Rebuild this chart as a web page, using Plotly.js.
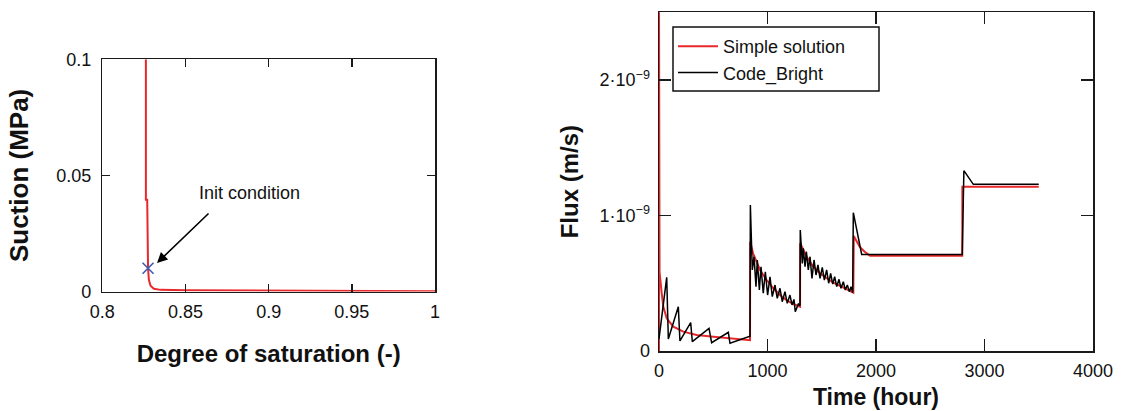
<!DOCTYPE html>
<html>
<head>
<meta charset="utf-8">
<script src="https://cdn.plot.ly/plotly-3.0.1.min.js"></script>
<style>
html,body{margin:0;padding:0;background:#fff;}
#chart{width:1122px;height:411px;}
</style>
</head>
<body>
<div id="chart"></div>
<script>
// ---- Left panel: suction vs degree of saturation ----
const satDegree = [0.8262, 0.8262, 0.8270, 0.8272, 0.8275, 0.8280, 0.8290, 0.8310, 0.8350, 0.85, 0.90, 0.95, 1.0];
const suctionMPa = [0.1, 0.0395, 0.0395, 0.02, 0.01, 0.005, 0.0025, 0.0012, 0.0007, 0.0005, 0.0003, 0.0002, 0.0001];
const initSat = [0.8275];
const initSuction = [0.01];
const satTicks = [0.8, 0.85, 0.9, 0.95, 1];
const satTickLabels = ['0.8', '0.85', '0.9', '0.95', '1'];
const sucTicks = [0, 0.05, 0.1];
const sucTickLabels = ['0', '0.05', '0.1'];

// ---- Right panel: flux vs time (flux in units of 1e-9 m/s) ----
const simpleTime = [0, 0, 5, 25, 40, 71, 132, 224, 347, 501, 654, 808, 839, 840, 867, 931, 992, 1054, 1115, 1176, 1238, 1300, 1301, 1361, 1422, 1484, 1545, 1607, 1668, 1730, 1791, 1795, 1818, 1849, 1895, 1945, 2795, 2796, 3500];
const simpleFlux = [0, 2.7, 0.585, 0.426, 0.327, 0.241, 0.18, 0.143, 0.118, 0.106, 0.094, 0.081, 0.08, 0.807, 0.721, 0.598, 0.524, 0.463, 0.413, 0.376, 0.347, 0.327, 0.795, 0.696, 0.622, 0.573, 0.536, 0.504, 0.48, 0.455, 0.43, 0.849, 0.819, 0.77, 0.733, 0.703, 0.703, 1.213, 1.213];
const cbTime = [0, 71, 86, 178, 193, 292, 307, 461, 485, 639, 654, 839, 842, 860, 876, 894, 906, 925, 940, 961, 980, 1001, 1023, 1044, 1069, 1090, 1115, 1136, 1161, 1182, 1207, 1226, 1244, 1256, 1284, 1300, 1302, 1321, 1330, 1346, 1358, 1376, 1392, 1410, 1429, 1447, 1465, 1484, 1505, 1524, 1545, 1564, 1582, 1601, 1619, 1638, 1659, 1677, 1699, 1717, 1736, 1754, 1770, 1785, 1791, 1868, 2012, 2169, 2320, 2476, 2630, 2795, 2810, 2897, 3044, 3195, 3348, 3500];
const cbFlux = [0.09, 0.544, 0.089, 0.327, 0.074, 0.21, 0.069, 0.167, 0.061, 0.138, 0.057, 0.11, 1.077, 0.598, 0.696, 0.475, 0.672, 0.45, 0.622, 0.426, 0.585, 0.413, 0.548, 0.401, 0.487, 0.389, 0.463, 0.364, 0.438, 0.352, 0.413, 0.34, 0.381, 0.29, 0.347, 0.335, 0.893, 0.647, 0.758, 0.622, 0.733, 0.598, 0.696, 0.536, 0.672, 0.561, 0.635, 0.536, 0.617, 0.524, 0.598, 0.5, 0.573, 0.494, 0.548, 0.475, 0.529, 0.463, 0.511, 0.45, 0.487, 0.438, 0.475, 0.43, 1.021, 0.713, 0.713, 0.713, 0.713, 0.713, 0.713, 0.713, 1.331, 1.23, 1.23, 1.23, 1.23, 1.23];
const fluxScale = 1e-9;
const timeTicks = [0, 1000, 2000, 3000, 4000];
const fluxTicks = [0, 1e-9, 2e-9];
const fluxTickLabels = ['0', '1\u00b710<sup>\u22129</sup>', '2\u00b710<sup>\u22129</sup>'];
const seriesNames = ['Simple solution', 'Code_Bright'];

const FONT = 'Liberation Sans, Arial, Helvetica, sans-serif';
const RED = '#e8282b';
const AX = '#1a1a1a';
const W = 1122, H = 411;

const traces = [
  {x: satDegree, y: suctionMPa, xaxis: 'x', yaxis: 'y', mode: 'lines',
   line: {color: RED, width: 2}, showlegend: false, hoverinfo: 'skip'},
  {x: initSat, y: initSuction, xaxis: 'x', yaxis: 'y', mode: 'markers',
   marker: {symbol: 'x-thin-open', size: 11, color: '#3b5bb5', line: {width: 1.6, color: '#3b5bb5'}},
   showlegend: false, hoverinfo: 'skip'},
  {x: simpleTime, y: simpleFlux.map(v => v * fluxScale), xaxis: 'x2', yaxis: 'y2', mode: 'lines',
   name: seriesNames[0], line: {color: RED, width: 2}},
  {x: cbTime, y: cbFlux.map(v => v * fluxScale), xaxis: 'x2', yaxis: 'y2', mode: 'lines',
   name: seriesNames[1], line: {color: '#000', width: 1.5}}
];

function axBase() {
  return {showline: true, linecolor: AX, linewidth: 1.5, mirror: 'ticks', ticks: 'inside',
          tickcolor: AX, tickwidth: 1.5, showgrid: false, zeroline: false, fixedrange: true,
          tickfont: {family: FONT, size: 18, color: '#111'}, automargin: false};
}

const layout = {
  width: W, height: H,
  margin: {l: 0, r: 0, t: 0, b: 0},
  paper_bgcolor: '#fff', plot_bgcolor: '#fff',
  font: {family: FONT, size: 18, color: '#111'},
  xaxis: Object.assign(axBase(), {
    domain: [102.3 / W, 435 / W], range: [0.8, 1], anchor: 'y',
    tickmode: 'array', tickvals: satTicks, ticktext: satTickLabels, ticklen: 8, ticklabelstandoff: 3,
    title: {text: '<b>Degree of saturation (-)</b>', font: {family: FONT, size: 24, color: '#111'}, standoff: 24}
  }),
  yaxis: Object.assign(axBase(), {
    domain: [1 - 291.5 / H, 1 - 59.3 / H], range: [0, 0.1], anchor: 'x',
    tickmode: 'array', tickvals: sucTicks, ticktext: sucTickLabels, ticklen: 8, ticklabelstandoff: 6,
    title: {text: '<b>Suction (MPa)</b>', font: {family: FONT, size: 26, color: '#111'}, standoff: 20}
  }),
  xaxis2: Object.assign(axBase(), {
    domain: [659 / W, 1093 / W], range: [0, 4000], anchor: 'y2',
    tickmode: 'array', tickvals: timeTicks, ticktext: timeTicks.map(String), ticklen: 12, ticklabelstandoff: 3,
    title: {text: '<b>Time (hour)</b>', font: {family: FONT, size: 23, color: '#111'}, standoff: 9}
  }),
  yaxis2: Object.assign(axBase(), {
    domain: [1 - 351 / H, 1 - 12.3 / H], range: [0, 2.5e-9], anchor: 'x2',
    tickmode: 'array', tickvals: fluxTicks, ticktext: fluxTickLabels, ticklen: 12, ticklabelstandoff: 4,
    title: {text: '<b>Flux (m/s)</b>', font: {family: FONT, size: 24, color: '#111'}, standoff: 14}
  }),
  showlegend: true,
  legend: {x: 673 / W, y: 1 - 28 / H, xanchor: 'left', yanchor: 'top', xref: 'paper', yref: 'paper',
           bgcolor: 'rgba(0,0,0,0)', borderwidth: 0, itemwidth: 40,
           font: {family: FONT, size: 18, color: '#111'}, tracegroupgap: 0},
  shapes: [
    {type: 'rect', xref: 'paper', yref: 'paper', x0: 673 / W, x1: 879 / W, y0: 1 - 91 / H, y1: 1 - 27 / H,
     fillcolor: '#fff', line: {color: '#111', width: 1.5}, layer: 'above'}
  ],
  annotations: [
    {xref: 'x', yref: 'y', x: 0.8329, y: 0.01227, ax: 53, ay: -51, text: '', showarrow: true,
     arrowhead: 2, arrowsize: 1.3, arrowwidth: 1.6, arrowcolor: '#000'},
    {xref: 'x', yref: 'y', x: 0.8882, y: 0.0424, text: 'Init condition', showarrow: false,
     font: {family: FONT, size: 18, color: '#111'}}
  ]
};

Plotly.newPlot('chart', traces, layout, {displayModeBar: false, staticPlot: true});
</script>
</body>
</html>
